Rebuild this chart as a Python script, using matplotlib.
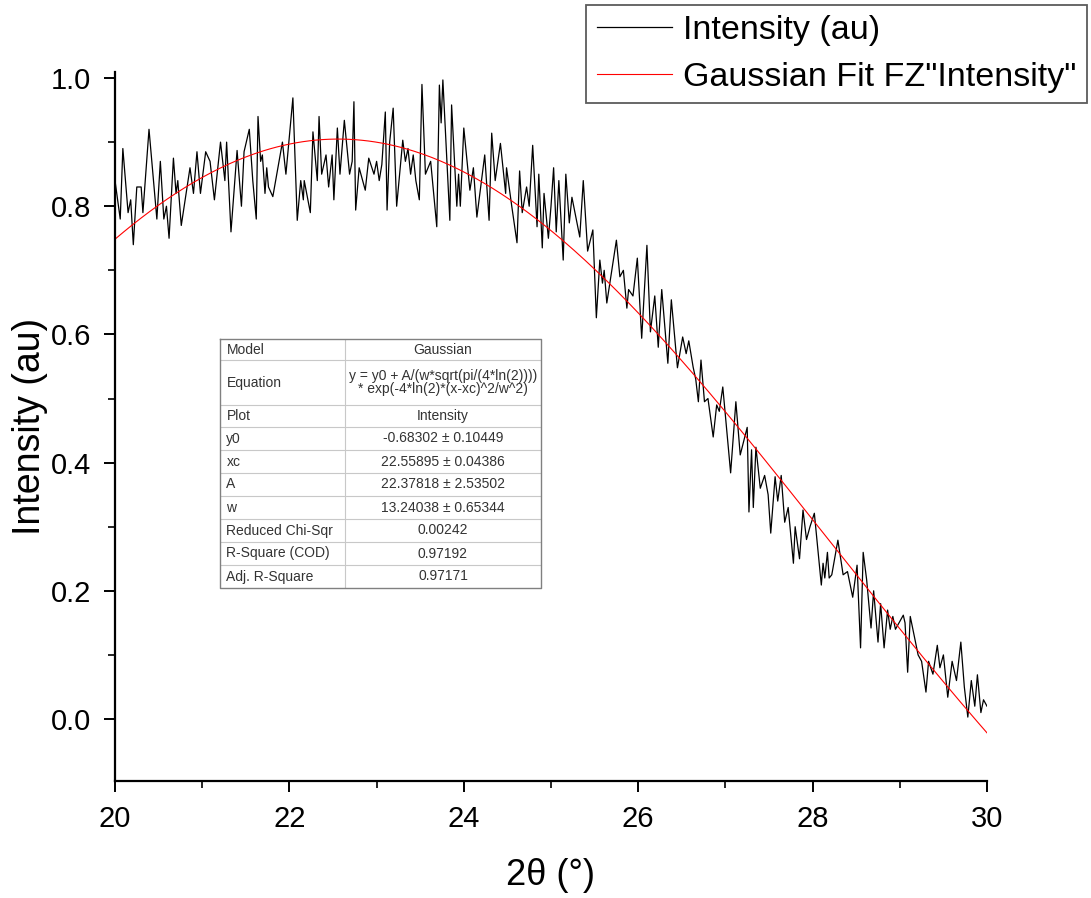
import matplotlib
matplotlib.use("Agg")
import matplotlib.pyplot as plt
import numpy as np
from matplotlib.ticker import MultipleLocator

plt.rcParams['font.family'] = ['Liberation Sans', 'DejaVu Sans']

two_theta = [
    20.00, 20.06, 20.09, 20.15, 20.18, 20.21, 20.25, 20.30, 20.32, 20.39,
    20.48, 20.52, 20.56, 20.59, 20.62, 20.67, 20.70, 20.72, 20.76, 20.86,
    20.90, 20.94, 20.98, 21.04, 21.09, 21.14, 21.21, 21.26, 21.28, 21.33,
    21.40, 21.45, 21.48, 21.54, 21.58, 21.62, 21.64, 21.67, 21.69, 21.72,
    21.74, 21.76, 21.81, 21.92, 21.96, 22.04, 22.09, 22.13, 22.16, 22.17,
    22.24, 22.27, 22.32, 22.34, 22.37, 22.42, 22.45, 22.49, 22.51, 22.55,
    22.58, 22.63, 22.69, 22.72, 22.74, 22.76, 22.80, 22.87, 22.91, 22.97,
    23.00, 23.03, 23.06, 23.10, 23.12, 23.15, 23.19, 23.23, 23.30, 23.33,
    23.36, 23.39, 23.42, 23.45, 23.49, 23.52, 23.56, 23.59, 23.62, 23.69,
    23.72, 23.74, 23.76, 23.84, 23.86, 23.92, 23.94, 23.96, 24.00, 24.07,
    24.11, 24.15, 24.24, 24.29, 24.32, 24.36, 24.42, 24.48, 24.49, 24.55,
    24.61, 24.64, 24.67, 24.72, 24.75, 24.79, 24.84, 24.86, 24.90, 24.92,
    24.97, 25.00, 25.03, 25.06, 25.09, 25.14, 25.17, 25.21, 25.24, 25.33,
    25.37, 25.42, 25.48, 25.52, 25.56, 25.59, 25.61, 25.64, 25.75, 25.79,
    25.83, 25.87, 25.89, 25.94, 25.99, 26.04, 26.10, 26.14, 26.19, 26.23,
    26.27, 26.34, 26.38, 26.45, 26.51, 26.55, 26.58, 26.63, 26.66, 26.69,
    26.72, 26.76, 26.80, 26.86, 26.90, 26.93, 26.97, 27.06, 27.12, 27.17,
    27.25, 27.27, 27.30, 27.32, 27.35, 27.40, 27.45, 27.49, 27.52, 27.57,
    27.60, 27.64, 27.68, 27.72, 27.78, 27.80, 27.85, 27.89, 27.93, 27.97,
    28.02, 28.10, 28.12, 28.14, 28.17, 28.19, 28.22, 28.29, 28.35, 28.40,
    28.46, 28.51, 28.55, 28.58, 28.62, 28.67, 28.70, 28.75, 28.78, 28.82,
    28.86, 28.89, 28.92, 28.95, 29.04, 29.06, 29.09, 29.12, 29.18, 29.21,
    29.25, 29.30, 29.33, 29.38, 29.43, 29.46, 29.50, 29.55, 29.60, 29.65,
    29.70, 29.74, 29.78, 29.82, 29.86, 29.89, 29.93, 29.96, 30.00,
]
intensity = [
    0.840, 0.780, 0.890, 0.790, 0.810, 0.740, 0.830, 0.830, 0.790, 0.920,
    0.780, 0.870, 0.780, 0.800, 0.750, 0.875, 0.820, 0.840, 0.770, 0.860,
    0.820, 0.885, 0.820, 0.885, 0.870, 0.810, 0.900, 0.840, 0.900, 0.760,
    0.887, 0.800, 0.885, 0.920, 0.840, 0.780, 0.940, 0.870, 0.880, 0.820,
    0.860, 0.830, 0.815, 0.900, 0.850, 0.969, 0.778, 0.840, 0.810, 0.840,
    0.790, 0.916, 0.840, 0.940, 0.850, 0.880, 0.830, 0.880, 0.810, 0.922,
    0.850, 0.934, 0.850, 0.870, 0.963, 0.794, 0.860, 0.825, 0.875, 0.850,
    0.870, 0.840, 0.865, 0.947, 0.794, 0.900, 0.953, 0.800, 0.903, 0.870,
    0.890, 0.850, 0.880, 0.840, 0.810, 0.990, 0.850, 0.860, 0.870, 0.768,
    0.989, 0.930, 0.997, 0.778, 0.958, 0.800, 0.850, 0.800, 0.922, 0.825,
    0.860, 0.783, 0.880, 0.778, 0.914, 0.840, 0.898, 0.820, 0.860, 0.800,
    0.743, 0.855, 0.790, 0.830, 0.800, 0.895, 0.768, 0.850, 0.735, 0.820,
    0.750, 0.800, 0.860, 0.760, 0.840, 0.716, 0.850, 0.774, 0.814, 0.752,
    0.840, 0.730, 0.763, 0.626, 0.716, 0.680, 0.700, 0.649, 0.747, 0.690,
    0.700, 0.641, 0.670, 0.660, 0.719, 0.594, 0.739, 0.604, 0.660, 0.580,
    0.670, 0.555, 0.654, 0.548, 0.596, 0.570, 0.590, 0.549, 0.530, 0.495,
    0.560, 0.495, 0.500, 0.440, 0.490, 0.480, 0.518, 0.384, 0.495, 0.412,
    0.455, 0.323, 0.420, 0.330, 0.424, 0.360, 0.380, 0.350, 0.290, 0.378,
    0.340, 0.380, 0.307, 0.330, 0.243, 0.300, 0.250, 0.326, 0.280, 0.300,
    0.321, 0.209, 0.243, 0.220, 0.260, 0.220, 0.225, 0.279, 0.225, 0.230,
    0.190, 0.240, 0.111, 0.260, 0.217, 0.142, 0.200, 0.120, 0.180, 0.111,
    0.170, 0.140, 0.160, 0.140, 0.162, 0.150, 0.073, 0.160, 0.120, 0.100,
    0.090, 0.042, 0.090, 0.070, 0.115, 0.080, 0.100, 0.034, 0.090, 0.060,
    0.120, 0.050, 0.003, 0.060, 0.020, 0.069, 0.010, 0.030, 0.020,
]

# Gaussian fit parameters reported in the table.
y0, xc, A, w = -0.68302, 22.55895, 22.37818, 13.24038
y0_err, xc_err, A_err, w_err = 0.10449, 0.04386, 2.53502, 0.65344
red_chi_sqr = 0.00242
r_square = 0.97192
adj_r_square = 0.97171

x_fit = np.linspace(20, 30, 400)
y_fit = y0 + A / (w * np.sqrt(np.pi / (4 * np.log(2)))) * np.exp(-4 * np.log(2) * (x_fit - xc) ** 2 / w ** 2)

fig = plt.figure(figsize=(10.91, 8.98), dpi=100)
ax = fig.add_axes([115 / 1091, 1 - 781 / 898, 872 / 1091, 709 / 898])

data_line, = ax.plot(two_theta, intensity, color="black", lw=0.9, label="Intensity (au)")
fit_line, = ax.plot(x_fit, y_fit, color="red", lw=0.8, label='Gaussian Fit FZ"Intensity"')

ax.set_xlim(20, 30)
ax.set_ylim(-0.0967, 1.0094)
ax.xaxis.set_major_locator(MultipleLocator(2))
ax.xaxis.set_minor_locator(MultipleLocator(1))
ax.yaxis.set_major_locator(MultipleLocator(0.2))
ax.yaxis.set_minor_locator(MultipleLocator(0.1))
ax.yaxis.set_major_formatter(matplotlib.ticker.FormatStrFormatter("%.1f"))
for side in ("top", "right"):
    ax.spines[side].set_visible(False)
for side in ("left", "bottom"):
    ax.spines[side].set_linewidth(1.6)
ax.tick_params(which="major", direction="out", length=8, width=1.4, labelsize=21, pad=9)
ax.tick_params(which="minor", direction="out", length=5, width=1.2)
ax.set_xlabel("2θ (°)", fontsize=26, labelpad=18)
ax.set_ylabel("Intensity (au)", fontsize=27, labelpad=2)

fig.legend(handles=[data_line, fit_line], loc="upper right",
           bbox_to_anchor=(1087 / 1091, 1 - 5 / 898), fontsize=24.5,
           frameon=True, fancybox=False, edgecolor="#333333",
           handlelength=2.2, handletextpad=0.35, borderpad=0.3, labelspacing=0.45,
           borderaxespad=0)
fig.legends[0].get_frame().set_linewidth(1.3)

# Fit results table drawn as an inset.
row_labels = ["Model", "Equation", "Plot", "y0", "xc", "A", "w",
              "Reduced Chi-Sqr", "R-Square (COD)", "Adj. R-Square"]
row_values = ["Gaussian",
              "y = y0 + A/(w*sqrt(pi/(4*ln(2))))\n* exp(-4*ln(2)*(x-xc)^2/w^2)",
              "Intensity",
              f"{y0:.5f} ± {y0_err:.5f}",
              f"{xc:.5f} ± {xc_err:.5f}",
              f"{A:.5f} ± {A_err:.5f}",
              f"{w:.5f} ± {w_err:.5f}",
              f"{red_chi_sqr:.5f}",
              f"{r_square:.5f}",
              f"{adj_r_square:.5f}"]
row_heights = [21, 45, 22, 23, 23, 23, 23, 23, 23, 23]

tab = fig.add_axes([220 / 1091, 1 - 588 / 898, 321 / 1091, 249 / 898])
total = sum(row_heights)
tab.set_xlim(0, 1)
tab.set_ylim(total, 0)
tab.axis("off")
split = 125 / 321
top = 0
for label, value, h in zip(row_labels, row_values, row_heights):
    mid = top + h / 2
    tab.text(0.02, mid, label, ha="left", va="center", fontsize=10, color="#333333")
    tab.text((split + 1) / 2, mid, value, ha="center", va="center", fontsize=10,
             color="#333333", linespacing=0.95)
    top += h
    if top < total:
        tab.plot([0, 1], [top, top], color="#c8c8c8", lw=0.8)
tab.plot([split, split], [0, total], color="#c8c8c8", lw=0.8)
tab.plot([0, 1, 1, 0, 0], [0, 0, total, total, 0], color="#808080", lw=1.0, clip_on=False)

fig.savefig("out.png", dpi=100)
